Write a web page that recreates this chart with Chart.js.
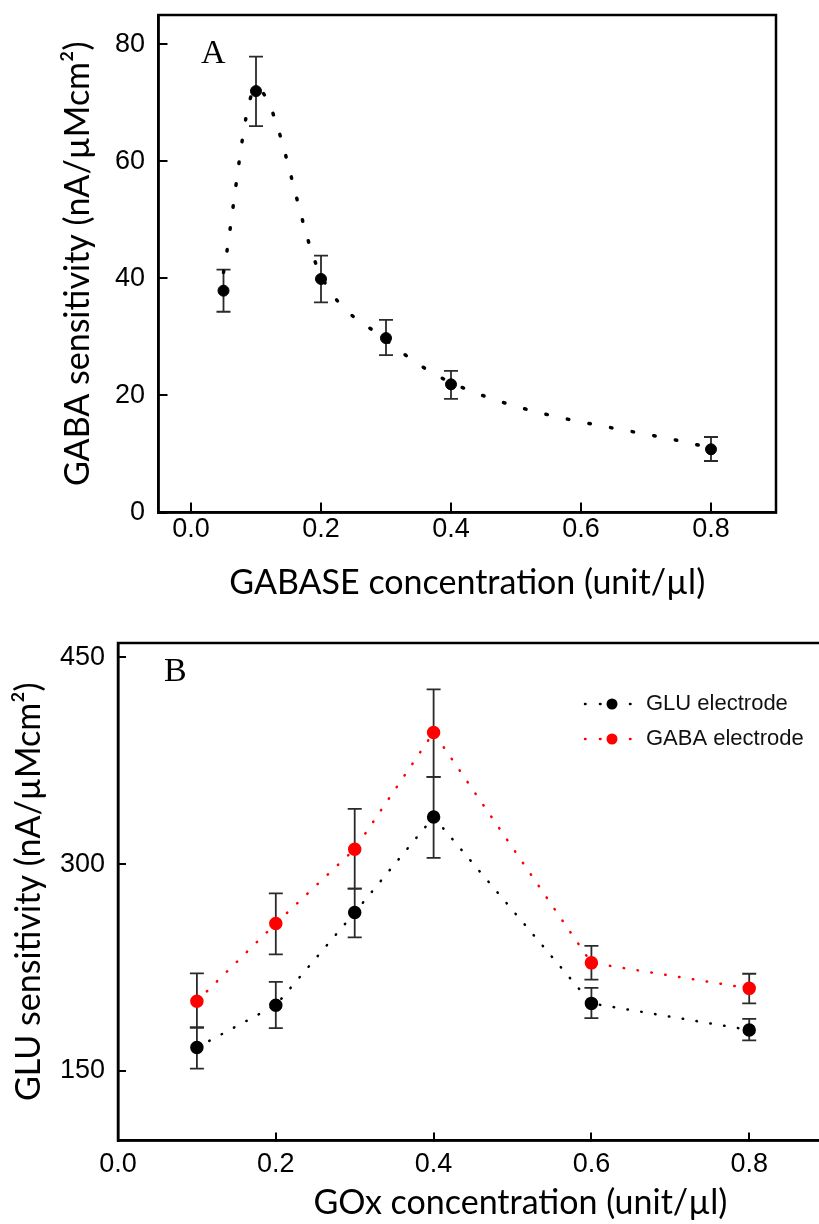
<!DOCTYPE html>
<html>
<head>
<meta charset="utf-8">
<script src="https://cdn.jsdelivr.net/npm/chart.js@4.4.1/dist/chart.umd.min.js"></script>
<style>
  body { margin: 0; width: 819px; height: 1224px; overflow: hidden; background: #fff; }
  .panel { position: absolute; left: 0; overflow: visible; }
</style>
</head>
<body>
<div class="panel" style="top:0"><canvas id="chartA" width="819" height="620"></canvas></div>
<div class="panel" style="top:620px"><canvas id="chartB" width="940" height="604"></canvas></div>
<script>
// Panel A: GABA sensitivity vs GABASE concentration
const gabaseConc = [0.05, 0.1, 0.2, 0.3, 0.4, 0.8];
const gabaSens = [37.9, 72.0, 39.9, 29.8, 21.9, 10.8];
const gabaSensLo = [34.3, 66.0, 35.9, 26.9, 19.4, 8.8];
const gabaSensHi = [41.5, 77.9, 43.9, 32.9, 24.2, 12.9];
const gabaFit = [41.0, 72.5, 40.5, 29.5, 22.2, 11.0];
const xTicksA = [0, 0.2, 0.4, 0.6, 0.8];
const yTicksA = [0, 20, 40, 60, 80];

// Panel B: GLU sensitivity vs GOx concentration
const goxConc = [0.1, 0.2, 0.3, 0.4, 0.6, 0.8];
const gluElectrode = [167.0, 197.7, 264.9, 334.3, 199.0, 179.7];
const gluElectrodeLo = [151.7, 181.0, 246.9, 304.6, 188.3, 172.1];
const gluElectrodeHi = [181.5, 214.6, 282.3, 363.3, 210.2, 187.8];
const gabaElectrode = [200.6, 257.0, 310.9, 395.6, 228.4, 209.9];
const gabaElectrodeLo = [181.5, 234.5, 282.3, 363.3, 216.3, 199.0];
const gabaElectrodeHi = [220.7, 278.8, 340.2, 426.8, 240.7, 220.5];
const xTicksB = [0, 0.2, 0.4, 0.6, 0.8, 1.0];
const yTicksB = [150, 300, 450];

const tickFont = { family: '"Liberation Sans", Arial, sans-serif', size: 27 };
const titleFont = { family: 'Lato, "Open Sans", sans-serif', size: 34 };

function pts(xs, ys) {
    return xs.map((x, i) => ({ x: x, y: ys[i] }));
}

// error bars, drawn under the markers
const errorBars = {
    id: 'errorBars',
    beforeDatasetsDraw(chart) {
        const { ctx, scales: { x, y } } = chart;
        chart.data.datasets.forEach(ds => {
            if (!ds.errLo) return;
            ctx.save();
            ctx.strokeStyle = '#2a2a2a';
            ctx.lineWidth = 1.8;
            ds.data.forEach((p, i) => {
                const px = x.getPixelForValue(p.x);
                const top = y.getPixelForValue(ds.errHi[i]);
                const bot = y.getPixelForValue(ds.errLo[i]);
                ctx.beginPath();
                ctx.moveTo(px, top); ctx.lineTo(px, bot);
                ctx.moveTo(px - 7, top); ctx.lineTo(px + 7, top);
                ctx.moveTo(px - 7, bot); ctx.lineTo(px + 7, bot);
                ctx.stroke();
            });
            ctx.restore();
        });
    }
};

// box round the plot area
const frame = {
    id: 'frame',
    afterDraw(chart) {
        const { ctx, chartArea: a } = chart;
        ctx.save();
        ctx.strokeStyle = '#000';
        ctx.lineWidth = 2.5;
        ctx.strokeRect(a.left, a.top, a.right - a.left, a.bottom - a.top);
        ctx.restore();
    }
};

// the A / B letter in the corner
const panelLabel = {
    id: 'panelLabel',
    afterDraw(chart, args, opts) {
        const ctx = chart.ctx;
        ctx.save();
        ctx.fillStyle = '#000';
        ctx.font = '34px "Liberation Serif", "Times New Roman", serif';
        ctx.textBaseline = 'alphabetic';
        ctx.fillText(opts.text, opts.x, opts.y);
        ctx.restore();
    }
};

// legend inside panel B
const legendB = {
    id: 'legendB',
    afterDraw(chart, args, opts) {
        if (!opts.show) return;
        const ctx = chart.ctx;
        chart.data.datasets.forEach((ds, i) => {
            const y = 84 + i * 35;
            ctx.save();
            ctx.strokeStyle = ds.borderColor;
            ctx.lineWidth = 2.5;
            ctx.lineCap = 'round';
            ctx.setLineDash([0.5, 14.5]);
            ctx.beginPath();
            ctx.moveTo(585, y); ctx.lineTo(632, y);
            ctx.stroke();
            ctx.setLineDash([]);
            ctx.fillStyle = ds.pointBackgroundColor;
            ctx.beginPath();
            ctx.arc(612, y, 5.5, 0, Math.PI * 2);
            ctx.fill();
            ctx.fillStyle = '#111';
            ctx.font = '22px "Liberation Sans", Arial, sans-serif';
            ctx.textBaseline = 'middle';
            ctx.fillText(ds.label, 646, y);
            ctx.restore();
        });
    }
};

function axisCommon(tickLen, pad) {
    return {
        type: 'linear',
        grid: { drawOnChartArea: false, drawTicks: true, tickLength: tickLen, color: '#000', lineWidth: 2 },
        border: { display: true, color: '#000', width: 2.5 },
        ticks: { color: '#000', font: tickFont, padding: pad, maxRotation: 0, autoSkip: false }
    };
}

// fixed axis box sizes, and no extra room asked for by the labels
function fixSize(prop, size) {
    return s => {
        s[prop] = size;
        s.paddingTop = 0; s.paddingBottom = 0;
        s.paddingLeft = 0; s.paddingRight = 0;
    };
}

// ---- Chart A ----
const ax = axisCommon(-10, 11);
ax.min = -0.05; ax.max = 0.9;
ax.ticks.callback = v => v.toFixed(1);
ax.afterBuildTicks = s => { s.ticks = xTicksA.map(v => ({ value: v })); };
ax.afterFit = fixSize('height', 107.5);
ax.title = { display: true, text: 'GABASE concentration (unit/µl)', color: '#000', font: titleFont, padding: { top: 0, bottom: 17 } };

const ay = axisCommon(-9, 22.5);
ay.min = 0; ay.max = 85;
ay.afterBuildTicks = s => { s.ticks = yTicksA.map(v => ({ value: v })); };
ay.afterFit = fixSize('width', 158.5);
ay.title = { display: true, text: 'GABA sensitivity (nA/µMcm²)', color: '#000', font: titleFont, padding: { top: 58, bottom: 0 } };

new Chart(document.getElementById('chartA'), {
    type: 'scatter',
    data: {
        datasets: [
            {
                label: 'fit',
                data: pts(gabaseConc, gabaFit),
                showLine: true,
                borderColor: '#000',
                borderWidth: 3.5,
                borderDash: [1.5, 20.5],
                borderCapStyle: 'round',
                cubicInterpolationMode: 'monotone',
                pointRadius: 0
            },
            {
                label: 'GABA',
                data: pts(gabaseConc, gabaSens),
                errLo: gabaSensLo,
                errHi: gabaSensHi,
                showLine: false,
                pointRadius: 5.5,
                pointBackgroundColor: '#000',
                pointBorderColor: '#000'
            }
        ]
    },
    options: {
        responsive: false,
        animation: false,
        layout: { padding: { top: 15, right: 43, left: 0, bottom: 0 } },
        plugins: {
            legend: { display: false },
            tooltip: { enabled: false },
            panelLabel: { text: 'A', x: 201, y: 63 },
            legendB: { show: false }
        },
        scales: { x: ax, y: ay }
    },
    plugins: [errorBars, frame, panelLabel, legendB]
});

// ---- Chart B ----
const bx = axisCommon(-8, 16);
bx.min = 0; bx.max = 1.02;
bx.ticks.callback = v => v.toFixed(1);
bx.afterBuildTicks = s => { s.ticks = xTicksB.map(v => ({ value: v })); };
bx.afterFit = fixSize('height', 83.5);
bx.title = { display: true, text: 'GOx concentration (unit/µl)', color: '#000', font: titleFont, padding: { top: 0, bottom: 1 } };

const by = axisCommon(-8, 21);
by.min = 99.5; by.max = 460.5;
by.afterBuildTicks = s => { s.ticks = yTicksB.map(v => ({ value: v })); };
by.afterFit = fixSize('width', 118);
by.title = { display: true, text: 'GLU sensitivity (nA/µMcm²)', color: '#000', font: titleFont, padding: { top: 9, bottom: 0 } };

function seriesB(label, ys, lo, hi, color) {
    return {
        label: label,
        data: pts(goxConc, ys),
        errLo: lo,
        errHi: hi,
        showLine: true,
        borderColor: color,
        borderWidth: 2.5,
        borderDash: [0.5, 13.5],
        borderCapStyle: 'round',
        pointRadius: 5.5,
        pointBackgroundColor: color,
        pointBorderColor: color
    };
}

new Chart(document.getElementById('chartB'), {
    type: 'scatter',
    data: {
        datasets: [
            seriesB('GLU electrode', gluElectrode, gluElectrodeLo, gluElectrodeHi, '#000'),
            seriesB('GABA electrode', gabaElectrode, gabaElectrodeLo, gabaElectrodeHi, '#ff0000')
        ]
    },
    options: {
        responsive: false,
        animation: false,
        layout: { padding: { top: 23, right: 17.2, left: 0, bottom: 0 } },
        plugins: {
            legend: { display: false },
            tooltip: { enabled: false },
            panelLabel: { text: 'B', x: 164, y: 61 },
            legendB: { show: true }
        },
        scales: { x: bx, y: by }
    },
    plugins: [errorBars, frame, panelLabel, legendB]
});
</script>
</body>
</html>
